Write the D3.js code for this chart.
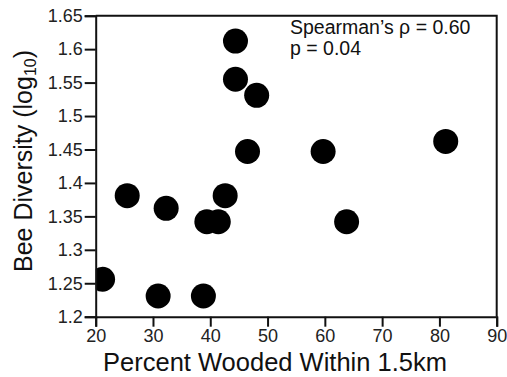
<!DOCTYPE html>
<html>
<head>
<meta charset="utf-8">
<script src="https://cdn.jsdelivr.net/npm/d3@7"></script>
<style>
  body { margin: 0; background: #fff; }
  svg { display: block; font-family: "Liberation Sans", Arial, sans-serif; }
</style>
</head>
<body>
<svg id="chart" width="507" height="377"></svg>
<script>
// Data
const woodedPct = [21.2, 25.5, 32.3, 30.9, 38.8, 39.4, 41.4, 42.6, 44.4, 44.4, 48.1, 46.5, 59.7, 63.8, 81.1];
const beeDiversity = [1.256, 1.381, 1.362, 1.231, 1.231, 1.342, 1.342, 1.381, 1.612, 1.555, 1.531, 1.447, 1.447, 1.342, 1.462];
const xTicks = [20, 30, 40, 50, 60, 70, 80, 90];
const yTicks = [1.2, 1.25, 1.3, 1.35, 1.4, 1.45, 1.5, 1.55, 1.6, 1.65];
const annotationLines = ["Spearman\u2019s \u03c1 = 0.60", "p = 0.04"];

const svg = d3.select("#chart");
const m = { left: 95.7, right: 496.7, top: 15.7, bottom: 316.7 };

const x = d3.scaleLinear().domain([20, 90]).range([m.left, m.right]);
const y = d3.scaleLinear().domain([1.2, 1.65]).range([m.bottom, m.top]);

svg.append("defs").append("clipPath").attr("id", "plotclip")
  .append("rect")
  .attr("x", m.left).attr("y", m.top)
  .attr("width", m.right - m.left).attr("height", m.bottom - m.top);

// Points
svg.append("g").attr("clip-path", "url(#plotclip)")
  .selectAll("circle")
  .data(woodedPct.map((v, i) => [v, beeDiversity[i]]))
  .join("circle")
  .attr("cx", d => x(d[0]))
  .attr("cy", d => y(d[1]))
  .attr("r", 12.5)
  .attr("fill", "#000");

// Frame (top and right)
svg.append("path")
  .attr("d", `M${m.left},${m.top}H${m.right}V${m.bottom}`)
  .attr("fill", "none").attr("stroke", "#111").attr("stroke-width", 2);

// Axes
const xAxis = svg.append("g")
  .attr("transform", `translate(0,${m.bottom})`)
  .call(d3.axisBottom(x).tickValues(xTicks).tickFormat(d => String(d)).tickSizeOuter(0).tickSize(10).tickPadding(3));
const yAxis = svg.append("g")
  .attr("transform", `translate(${m.left},0)`)
  .call(d3.axisLeft(y).tickValues(yTicks).tickFormat(d => String(d)).tickSizeOuter(0).tickSize(11).tickPadding(2));

[xAxis, yAxis].forEach(g => {
  g.select(".domain").attr("stroke", "#111").attr("stroke-width", 2);
  g.selectAll(".tick line").attr("stroke", "#111").attr("stroke-width", 2);
  g.selectAll(".tick text")
    .attr("fill", "#222")
    .style("font-size", "18px")
    .style("font-family", "'Liberation Sans', Arial, sans-serif");
});

// X title
svg.append("text")
  .attr("x", 275).attr("y", 371)
  .attr("text-anchor", "middle")
  .attr("fill", "#111")
  .style("font-size", "25.5px")
  .text("Percent Wooded Within 1.5km");

// Y title
const yt = svg.append("text")
  .attr("transform", "translate(32,161) rotate(-90)")
  .attr("text-anchor", "middle")
  .attr("fill", "#111")
  .style("font-size", "25px");
yt.append("tspan").text("Bee Diversity (log");
yt.append("tspan").attr("dy", 4).style("font-size", "16px").text("10");
yt.append("tspan").attr("dy", -4).text(")");

// Annotation
svg.append("g").selectAll("text")
  .data(annotationLines)
  .join("text")
  .attr("x", 290)
  .attr("y", (d, i) => 34 + i * 21)
  .attr("fill", "#111")
  .style("font-size", "19.5px")
  .text(d => d);
</script>
</body>
</html>
